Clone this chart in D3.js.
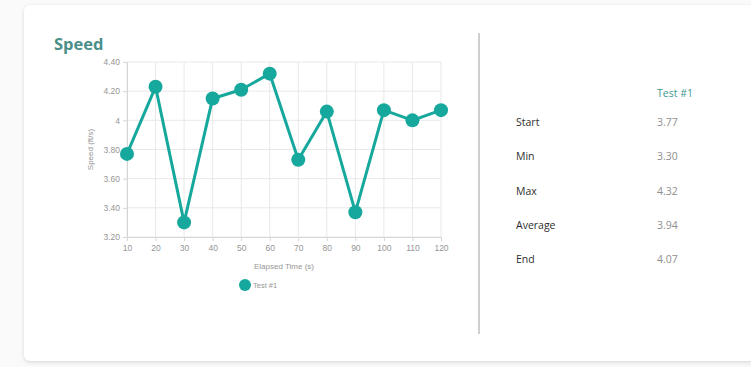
<!DOCTYPE html>
<html>
<head>
<meta charset="utf-8">
<script src="https://cdn.jsdelivr.net/npm/d3@7"></script>
<style>
  html, body { margin: 0; padding: 0; background: #fafafb; }
  body { width: 751px; height: 367px; overflow: hidden; position: relative; }
  .card {
    position: absolute; left: 24px; top: 5px; width: 760px; height: 356px;
    background: #fff; border-radius: 6px;
    box-shadow: 0 2px 4px rgba(0,0,0,0.10), 0 0 3px rgba(0,0,0,0.05);
  }
  svg { position: absolute; left: 0; top: 0; }
</style>
</head>
<body>
<div class="card"></div>
<svg id="chart" width="751" height="367"></svg>
<script>
// Elapsed time (s) and measured speed (ft/s) for Test #1
const times = [10, 20, 30, 40, 50, 60, 70, 80, 90, 100, 110, 120];
const speeds = [3.77, 4.23, 3.30, 4.15, 4.21, 4.32, 3.73, 4.06, 3.37, 4.07, 4.00, 4.07];
const yTicks = [3.2, 3.4, 3.6, 3.8, 4.0, 4.2, 4.4];
const seriesName = "Test #1";
const statLabels = ["Start", "Min", "Max", "Average", "End"];
const statValues = [3.77, 3.30, 4.32, 3.94, 4.07];

const teal = "#16a89c";
const uiFont = "'Open Sans', sans-serif";
const axisFont = "'Liberation Sans', Arial, sans-serif";
const svg = d3.select("#chart");

// Title
svg.append("text")
  .attr("x", 54).attr("y", 50)
  .attr("font-family", uiFont).attr("font-weight", 700)
  .attr("font-size", 16.5).attr("fill", "#4a8f8a")
  .text("Speed");

// Plot area
const plotL = 127, plotR = 441, plotT = 62, plotB = 237;
const x = d3.scaleLinear().domain([10, 120]).range([plotL, plotR]);
const y = d3.scaleLinear().domain([3.2, 4.4]).range([plotB, plotT]);

const g = svg.append("g");

// Grid
g.selectAll("line.vg").data(times).enter().append("line")
  .attr("x1", d => x(d)).attr("x2", d => x(d))
  .attr("y1", plotT).attr("y2", plotB)
  .attr("stroke", "#e8e8e8").attr("stroke-width", 1);
g.selectAll("line.hg").data(yTicks).enter().append("line")
  .attr("x1", plotL).attr("x2", plotR)
  .attr("y1", d => y(d)).attr("y2", d => y(d))
  .attr("stroke", "#e8e8e8").attr("stroke-width", 1);

// Axes
const yAxis = d3.axisLeft(y).tickValues(yTicks).tickSize(4).tickPadding(3)
  .tickFormat(d => d === 4 ? "4" : d3.format(".2f")(d));
const yg = svg.append("g").attr("transform", `translate(${plotL},0)`).call(yAxis);
const xAxis = d3.axisBottom(x).tickValues(times).tickSize(4).tickPadding(4);
const xg = svg.append("g").attr("transform", `translate(0,${plotB})`).call(xAxis);
[yg, xg].forEach(a => {
  a.select(".domain").attr("stroke", "#d6d6d6");
  a.selectAll(".tick line").attr("stroke", "#d6d6d6");
  a.selectAll(".tick text").attr("fill", "#969696")
    .attr("font-family", axisFont).attr("font-size", 8.5);
});

// Axis titles
svg.append("text")
  .attr("transform", `translate(93,${(plotT + plotB) / 2}) rotate(-90)`)
  .attr("text-anchor", "middle")
  .attr("font-family", axisFont).attr("font-size", 8).attr("fill", "#969696")
  .text("Speed (ft/s)");
svg.append("text")
  .attr("x", (plotL + plotR) / 2).attr("y", 269)
  .attr("text-anchor", "middle")
  .attr("font-family", axisFont).attr("font-size", 8).attr("fill", "#969696")
  .text("Elapsed Time (s)");

// Series line and markers
const pts = times.map((t, i) => [t, speeds[i]]);
svg.append("path").datum(pts)
  .attr("d", d3.line().x(d => x(d[0])).y(d => y(d[1])))
  .attr("fill", "none").attr("stroke", teal).attr("stroke-width", 3)
  .attr("stroke-linejoin", "round");
svg.selectAll("circle.pt").data(pts).enter().append("circle")
  .attr("cx", d => x(d[0])).attr("cy", d => y(d[1])).attr("r", 7)
  .attr("fill", teal);

// Legend
svg.append("circle").attr("cx", 245).attr("cy", 285).attr("r", 6).attr("fill", teal);
svg.append("text").attr("x", 253).attr("y", 288)
  .attr("font-family", axisFont).attr("font-size", 7.5).attr("fill", "#969696")
  .text(seriesName);

// Divider
svg.append("line").attr("x1", 479).attr("x2", 479).attr("y1", 33).attr("y2", 334)
  .attr("stroke", "#cfcfcf").attr("stroke-width", 2);

// Summary table
svg.append("text").attr("x", 657).attr("y", 97)
  .attr("font-family", uiFont).attr("font-size", 10.5).attr("fill", "#3f9a94")
  .text(seriesName);
const rowY = d3.scalePoint().domain(statLabels).range([126, 263]);
svg.selectAll("text.lbl").data(statLabels).enter().append("text")
  .attr("x", 516).attr("y", d => rowY(d))
  .attr("font-family", uiFont).attr("font-weight", 500)
  .attr("font-size", 10.5).attr("fill", "#2e2e2e")
  .text(d => d);
svg.selectAll("text.val").data(statValues).enter().append("text")
  .attr("x", 657).attr("y", (d, i) => rowY(statLabels[i]))
  .attr("font-family", uiFont).attr("font-size", 10.5).attr("fill", "#8f8f8f")
  .text(d => d3.format(".2f")(d));
</script>
</body>
</html>
